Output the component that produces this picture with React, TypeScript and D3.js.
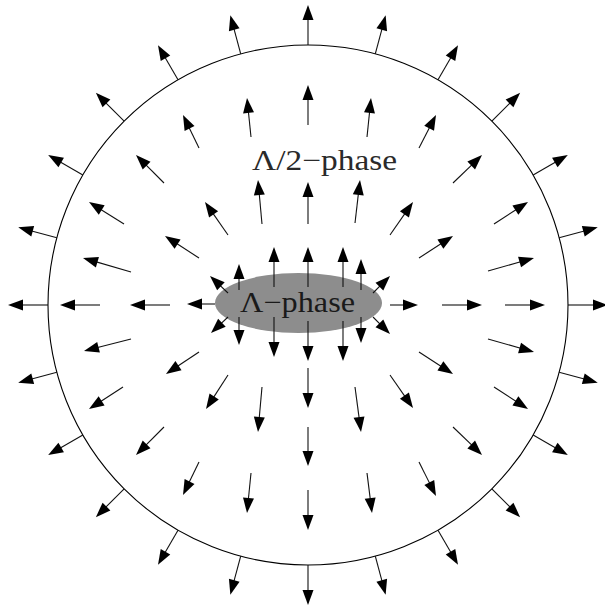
import * as d3 from 'd3';

// coordinates are relative to the centre of the big circle, y pointing up
const outerAngles = [0, 15, 30, 45, 60, 75, 90, 105, 120, 135, 150, 165, 180, 195, 210, 225, 240, 255, 270, 285, 300, 315, 330, 345];
const outerRadii = [260, 300];

// [tailX, tailY, headX, headY]
const ringB = [
  [0, 180, 0, 220],
  [-57, 168, -61, 207], [-109, 157, -125, 190], [-144, 122, -172, 150], [-184, 81, -219, 103], [-177, 33, -225, 47],
  [-208, 0, -248, 0],
  [59, 168, 63, 207], [111, 157, 128, 190], [145, 122, 174, 150], [186, 81, 220, 103], [180, 34, 226, 47],
  [197, 0, 237, 0],
  [-177, -34, -224, -46], [-185, -82, -219, -104], [-144, -122, -172, -150], [-109, -157, -125, -190], [-57, -168, -61, -208],
  [180, -34, 226, -47], [186, -82, 220, -104], [145, -122, 174, -150], [111, -157, 128, -191], [59, -168, 64, -208],
  [0, -185, 0, -225],
];

const ringC = [
  [0, 81, 0, 123],
  [-46, 81, -50, 125], [-80, 70, -103, 103], [-109, 47, -143, 69], [-138, 0, -178, 0],
  [47, 82, 52, 125], [82, 70, 105, 103], [111, 47, 145, 69], [134, 0, 174, 0],
  [-109, -47, -142, -69], [-80, -70, -102, -104], [-46, -82, -50, -127],
  [111, -47, 145, -69], [82, -70, 105, -103], [47, -82, 53, -127],
  [0, -63, 0, -103], [0, -122, 0, -161],
];

const lambdaArrows = [
  [-69, 15, -69, 41], [-34, 18, -34, 58], [0, 18, 0, 58], [35, 18, 35, 58], [53, 15, 53, 46],
  [-69, -12, -69, -40], [-34, -12, -34, -52], [0, -16, 0, -56], [35, -16, 35, -56], [53, -12, 53, -38],
  [-80, 12, -98, 29], [65, 12, 82, 29], [-80, -12, -97, -28], [65, -12, 82, -29],
  [-93, 1, -121, 1], [82, 0, 110, 0],
];

const lambdaPhase = { cx: -9.5, cy: 2, rx: 83.5, ry: 30 };
const labels = ['Λ−phase', 'Λ/2−phase'];

const W = 605;
const H = 608;
const HEAD_LEN = 15;
const HEAD_HALF = 5.5;

export default function App() {
  const x = d3.scaleLinear().domain([-308, 297]).range([0, W]);
  const y = d3.scaleLinear().domain([305, -303]).range([0, H]);

  const outer = outerAngles.map(a => {
    const t = (a * Math.PI) / 180;
    return [outerRadii[0] * Math.cos(t), outerRadii[0] * Math.sin(t), outerRadii[1] * Math.cos(t), outerRadii[1] * Math.sin(t)];
  });
  const arrows = [...outer, ...ringB, ...ringC, ...lambdaArrows];

  const drawArrow = (d: number[], i: number) => {
    const x0 = x(d[0]), y0 = y(d[1]), x1 = x(d[2]), y1 = y(d[3]);
    const len = Math.hypot(x1 - x0, y1 - y0);
    const ux = (x1 - x0) / len, uy = (y1 - y0) / len;
    const bx = x1 - ux * HEAD_LEN, by = y1 - uy * HEAD_LEN;
    const head = d3.path();
    head.moveTo(x1, y1);
    head.lineTo(bx - uy * HEAD_HALF, by + ux * HEAD_HALF);
    head.lineTo(bx + uy * HEAD_HALF, by - ux * HEAD_HALF);
    head.closePath();
    return (
      <g key={i}>
        <line x1={x0} y1={y0} x2={bx + ux * 2} y2={by + uy * 2} stroke="#111" strokeWidth={1.1} />
        <path d={head.toString()} fill="#000" />
      </g>
    );
  };

  return (
    <svg width={W} height={H} style={{ position: 'absolute', left: 0, top: 0, background: '#fff' }}>
      <circle cx={x(0)} cy={y(0)} r={x(outerRadii[0]) - x(0)} fill="none" stroke="#000" strokeWidth={1.1} />
      <ellipse
        cx={x(lambdaPhase.cx)}
        cy={y(lambdaPhase.cy)}
        rx={x(lambdaPhase.rx) - x(0)}
        ry={y(0) - y(lambdaPhase.ry)}
        fill="#8d8d8d"
      />
      {arrows.map(drawArrow)}
      <text x={x(-10.5)} y={y(-7)} textAnchor="middle" fontFamily="'Liberation Serif', serif" fontSize={29}
        fill="#1a1a1a" textLength={115} lengthAdjust="spacingAndGlyphs">{labels[0]}</text>
      <text x={x(16.5)} y={y(135)} textAnchor="middle" fontFamily="'Liberation Serif', serif" fontSize={29}
        fill="#2a2a2a" textLength={145} lengthAdjust="spacingAndGlyphs">{labels[1]}</text>
    </svg>
  );
}
